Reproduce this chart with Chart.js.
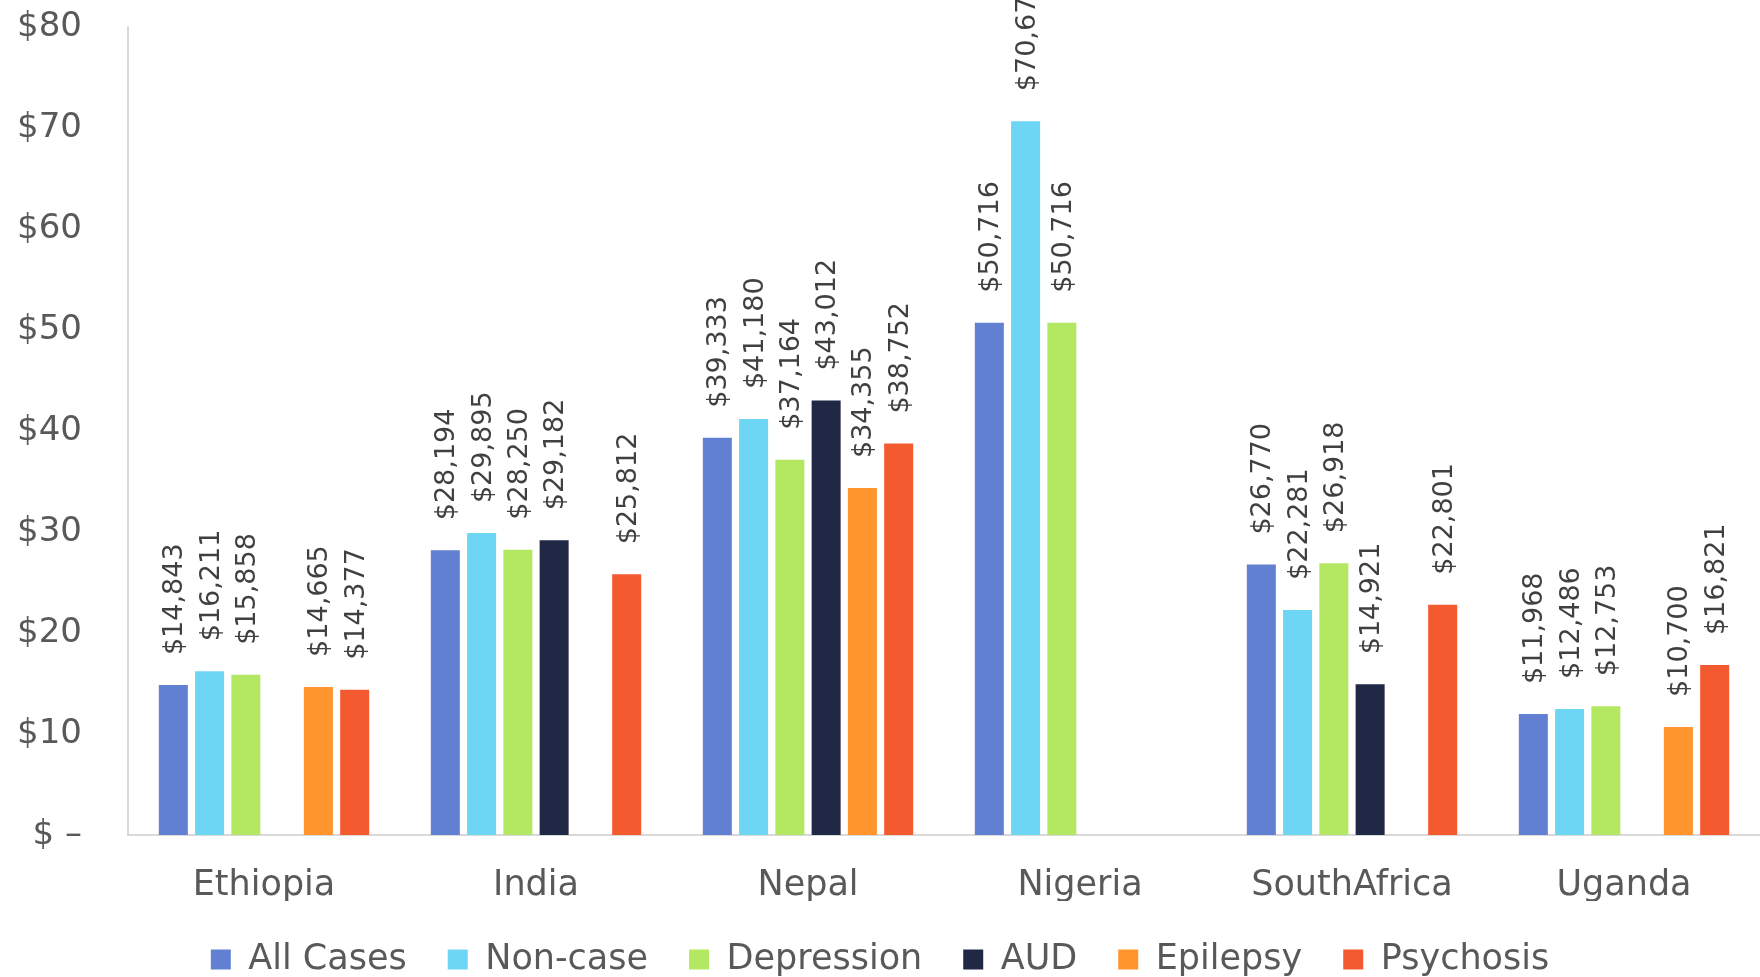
<!DOCTYPE html>
<html>
<head>
<meta charset="utf-8">
<script src="https://cdn.jsdelivr.net/npm/chart.js@4.4.1/dist/chart.umd.min.js"></script>
<style>
  html, body { margin: 0; padding: 0; background: #fff; overflow: hidden; }
  #wrap { width: 1760px; height: 977px; overflow: hidden; }
</style>
</head>
<body>
<div id="wrap"><canvas id="myChart" width="1760" height="987"></canvas></div>
<script>
var countries = ["Ethiopia", "India", "Nepal", "Nigeria", "SouthAfrica", "Uganda"];

var allCases   = [14843, 28194, 39333, 50716, 26770, 11968];
var nonCase    = [16211, 29895, 41180, 70677, 22281, 12486];
var depression = [15858, 28250, 37164, 50716, 26918, 12753];
var aud        = [null, 29182, 43012, null, 14921, null];
var epilepsy   = [14665, null, 34355, null, null, 10700];
var psychosis  = [14377, 25812, 38752, null, 22801, 16821];

var yTicks = [0, 10000, 20000, 30000, 40000, 50000, 60000, 70000, 80000];

var textGrey = "#595959";

// rotated value labels above each bar
var barLabels = {
  id: "barLabels",
  afterDatasetsDraw: function(chart) {
    var ctx = chart.ctx;
    ctx.save();
    ctx.fillStyle = "#404040";
    ctx.font = "27px 'DejaVu Sans'";
    ctx.textAlign = "left";
    ctx.textBaseline = "middle";
    chart.data.datasets.forEach(function(ds, i) {
      chart.getDatasetMeta(i).data.forEach(function(bar, j) {
        var v = ds.data[j];
        if (v == null) return;
        ctx.save();
        ctx.translate(bar.x + 2, bar.y - 30);
        ctx.rotate(-Math.PI / 2);
        ctx.fillText("$" + v.toLocaleString("en-US"), 0, 0);
        ctx.restore();
      });
    });
    ctx.restore();
  }
};

new Chart("myChart", {
  type: "bar",
  data: {
    labels: countries,
    datasets: [
      { label: "All Cases",  data: allCases,   backgroundColor: "#6280d2" },
      { label: "Non-case",   data: nonCase,    backgroundColor: "#6ed6f5" },
      { label: "Depression", data: depression, backgroundColor: "#b4e862" },
      { label: "AUD",        data: aud,        backgroundColor: "#212845" },
      { label: "Epilepsy",   data: epilepsy,   backgroundColor: "#fe952d" },
      { label: "Psychosis",  data: psychosis,  backgroundColor: "#f45a2f" }
    ]
  },
  options: {
    responsive: false,
    animation: false,
    devicePixelRatio: 1,
    datasets: { bar: { categoryPercentage: 0.8, barPercentage: 0.8 } },
    layout: { padding: { top: 27, left: 0, right: 0, bottom: 0 } },
    plugins: {
      legend: {
        position: "bottom",
        labels: {
          color: textGrey,
          font: { family: "DejaVu Sans", size: 35 },
          boxWidth: 20,
          boxHeight: 20,
          padding: 41
        }
      },
      tooltip: { enabled: false }
    },
    scales: {
      x: {
        grid: { display: false, drawTicks: false },
        border: { display: true, color: "#d9d9d9", width: 2 },
        ticks: {
          color: textGrey,
          padding: 30,
          font: { family: "DejaVu Sans", size: 35 }
        },
        afterFit: function(axis) { axis.height = 66; }
      },
      y: {
        min: 0,
        max: 80000,
        afterBuildTicks: function(axis) {
          axis.ticks = yTicks.map(function(v) { return { value: v }; });
        },
        grid: { display: false, drawTicks: false },
        border: { display: true, color: "#d9d9d9", width: 2 },
        ticks: {
          color: textGrey,
          padding: 46,
          font: { family: "DejaVu Sans", size: 34 },
          callback: function(v) { return v === 0 ? "$ \u2013" : "$" + (v / 1000); }
        },
        afterFit: function(axis) {
          axis.width = 128;
          axis.paddingTop = 20;
          axis.paddingBottom = 20;
        }
      }
    }
  },
  plugins: [barLabels]
});
</script>
</body>
</html>
